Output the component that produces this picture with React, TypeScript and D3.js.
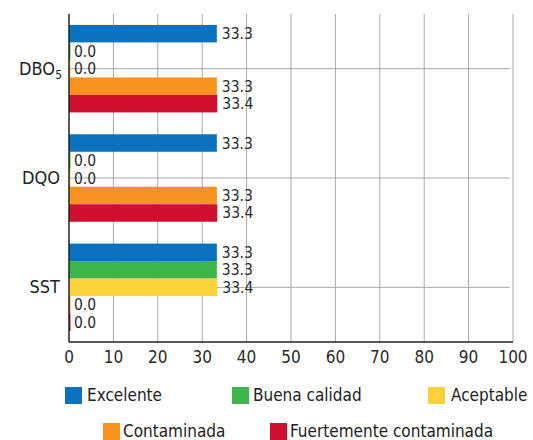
import React from "react";
import * as d3 from "d3";

const categories = ["DBO5", "DQO", "SST"];
const seriesNames = ["Excelente", "Buena calidad", "Aceptable", "Contaminada", "Fuertemente contaminada"];
const seriesColors = ["#0b72c0", "#3db54a", "#fdd13a", "#f7931e", "#cf0f2e"];
const excelente = [33.3, 33.3, 33.3];
const buenaCalidad = [0.0, 0.0, 33.3];
const aceptable = [0.0, 0.0, 33.4];
const contaminada = [33.3, 33.3, 0.0];
const fuertemente = [33.4, 33.4, 0.0];
const xTicks = [0, 10, 20, 30, 40, 50, 60, 70, 80, 90, 100];

const seriesValues = [excelente, buenaCalidad, aceptable, contaminada, fuertemente];

const FONT = "'DejaVu Sans Condensed', 'Liberation Sans Narrow', sans-serif";

export default function App() {
  const W = 533, H = 440;
  const left = 69, right = 513, top = 14, bottom = 342;
  const x = d3.scaleLinear().domain([0, 100]).range([left, right]);
  const y0 = d3.scaleBand().domain(categories).range([top, bottom]).paddingInner(0.2).paddingOuter(0.1);
  const y1 = d3.scaleBand().domain(seriesNames).range([0, y0.bandwidth()]);

  const legendRow1 = [
    { i: 0, sx: 65, tx: 87, y: 395 },
    { i: 1, sx: 232, tx: 253, y: 395 },
    { i: 2, sx: 428, tx: 451, y: 395 },
  ];
  const legendRow2 = [
    { i: 3, sx: 103, tx: 123, y: 431 },
    { i: 4, sx: 270, tx: 290, y: 431 },
  ];

  return (
    <svg width={W} height={H} style={{ position: "absolute", left: 0, top: 0, background: "#fff" }}>
      {xTicks.slice(1).map((t) => (
        <line key={"g" + t} x1={x(t)} x2={x(t)} y1={top} y2={bottom} stroke="#a8a8a8" strokeWidth={1} />
      ))}
      {categories.map((c) => {
        const cy = (y0(c) as number) + y0.bandwidth() / 2;
        return <line key={"h" + c} x1={left} x2={right - 3} y1={cy} y2={cy} stroke="#a8a8a8" strokeWidth={1} />;
      })}
      {categories.map((c, ci) =>
        seriesNames.map((s, si) => {
          const v = seriesValues[si][ci];
          const by = (y0(c) as number) + (y1(s) as number);
          const bh = y1.bandwidth();
          return (
            <g key={c + s}>
              <rect x={x(0)} y={by} width={Math.max(x(v) - x(0), 1.5)} height={bh} fill={seriesColors[si]} />
              <text x={x(v) + 5} y={by + bh / 2 + 5.5} fontSize={15.5} fontFamily={FONT} fill="#2a2a2a">
                {v.toFixed(1)}
              </text>
            </g>
          );
        })
      )}
      <line x1={left} x2={left} y1={top} y2={bottom} stroke="#222" strokeWidth={1.5} />
      <line x1={left} x2={right} y1={bottom} y2={bottom} stroke="#222" strokeWidth={1.5} />
      {xTicks.map((t) => (
        <text key={"t" + t} x={x(t)} y={363} textAnchor="middle" fontSize={17} fontFamily={FONT} fill="#2a2a2a">
          {t}
        </text>
      ))}
      {categories.map((c) => {
        const cy = (y0(c) as number) + y0.bandwidth() / 2;
        if (c === "DBO5") {
          return (
            <text key={"c" + c} x={62} y={cy + 6} textAnchor="end" fontSize={18} fontFamily={FONT} fill="#222">
              DBO<tspan fontSize={12} dy={4}>5</tspan>
            </text>
          );
        }
        return (
          <text key={"c" + c} x={60} y={cy + 6} textAnchor="end" fontSize={18} fontFamily={FONT} fill="#222">
            {c}
          </text>
        );
      })}
      {[...legendRow1, ...legendRow2].map((l) => (
        <g key={"l" + l.i}>
          <rect x={l.sx} y={l.y - 8} width={17} height={17} fill={seriesColors[l.i]} />
          <text x={l.tx} y={l.y + 6} fontSize={17} fontFamily={FONT} fill="#222">
            {seriesNames[l.i]}
          </text>
        </g>
      ))}
    </svg>
  );
}
